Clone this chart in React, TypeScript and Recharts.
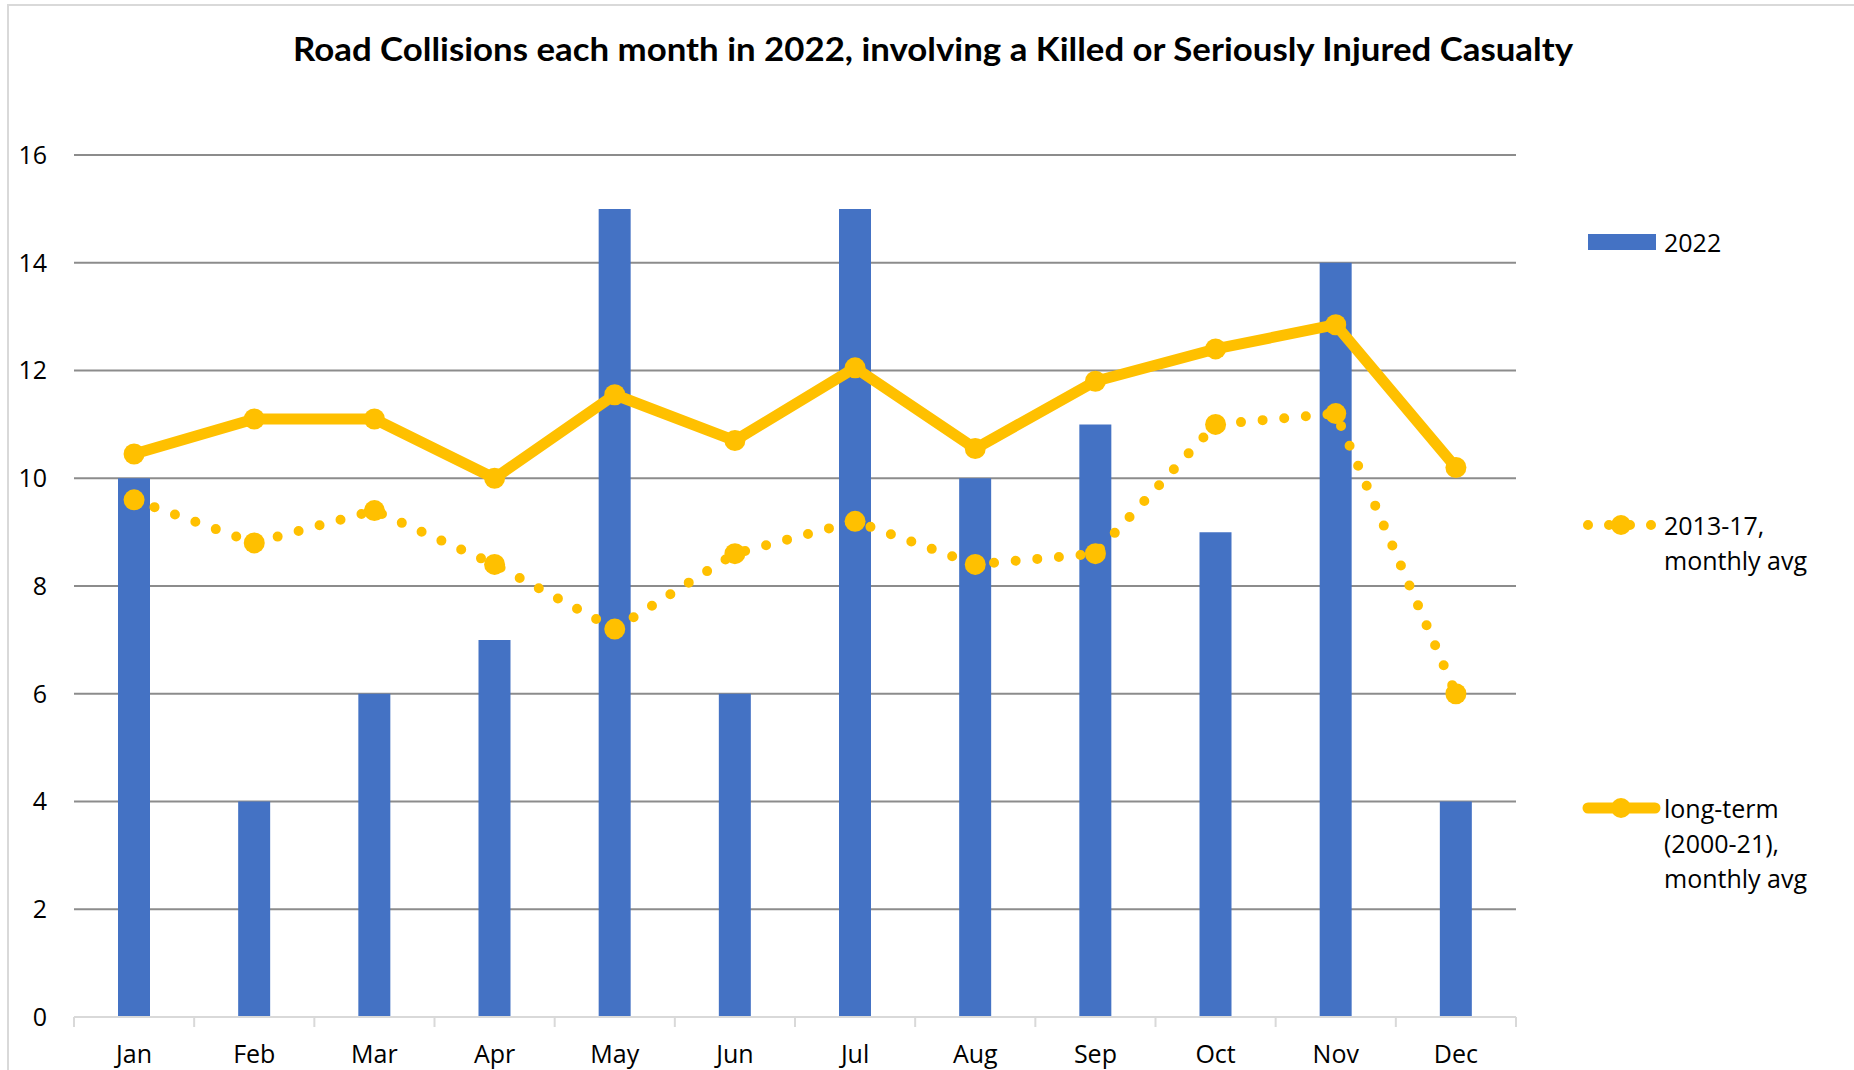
import React from 'react';
import { ComposedChart, Bar, Line, XAxis, YAxis, CartesianGrid, Legend } from 'recharts';

const months = ['Jan', 'Feb', 'Mar', 'Apr', 'May', 'Jun', 'Jul', 'Aug', 'Sep', 'Oct', 'Nov', 'Dec'];
const values2022 = [10, 4, 6, 7, 15, 6, 15, 10, 11, 9, 14, 4];
const avg2013to17 = [9.6, 8.8, 9.4, 8.4, 7.2, 8.6, 9.2, 8.4, 8.6, 11.0, 11.2, 6.0];
const longTermAvg = [10.45, 11.1, 11.1, 10.0, 11.55, 10.7, 12.05, 10.55, 11.8, 12.4, 12.85, 10.2];
const yTicks = [0, 2, 4, 6, 8, 10, 12, 14, 16];

const TITLE = 'Road Collisions each month in 2022, involving a Killed or Seriously Injured Casualty';
const NAME_2022 = '2022';
const NAME_1317 = ['2013-17,', 'monthly avg'];
const NAME_LT = ['long-term', '(2000-21),', 'monthly avg'];

const BLUE = '#4472C4';
const GOLD = '#FFC000';
const FONT = '"Open Sans", "Liberation Sans", Arial, sans-serif';

const data = months.map((m, i) => ({
  month: m,
  y2022: values2022[i],
  avg1317: avg2013to17[i],
  longTerm: longTermAvg[i],
}));

const XTick = (props: any) => {
  const { x, y, payload, index } = props;
  const off = payload && payload.offset ? payload.offset : 0;
  return (
    <g>
      <line x1={x - off} x2={x - off} y1={y} y2={y + 10} stroke="#d9d9d9" strokeWidth={2} />
      {index === months.length - 1 && (
        <line x1={x + off} x2={x + off} y1={y} y2={y + 10} stroke="#d9d9d9" strokeWidth={2} />
      )}
      <text x={x} y={y + 46} textAnchor="middle" fill="#000" fontSize={25} fontFamily={FONT}>
        {payload.value}
      </text>
    </g>
  );
};

const LegendContent = () => {
  const textStyle: React.CSSProperties = {
    position: 'absolute',
    left: 89,
    fontFamily: FONT,
    fontSize: 25,
    lineHeight: '35px',
    color: '#000',
    whiteSpace: 'nowrap',
  };
  return (
    <div style={{ position: 'relative', width: 279, height: 720 }}>
      <svg style={{ position: 'absolute', left: 0, top: 30 }} width={90} height={24}>
        <rect x={13} y={4} width={68} height={16} fill={BLUE} />
      </svg>
      <div style={{ ...textStyle, top: 42 - 17.5 }}>{NAME_2022}</div>
      <svg style={{ position: 'absolute', left: 0, top: 313 }} width={90} height={24}>
        <line x1={13} x2={80} y1={12} y2={12} stroke={GOLD} strokeWidth={10} strokeLinecap="round" strokeDasharray="0 21" />
        <circle cx={46} cy={12} r={10} fill={GOLD} />
      </svg>
      <div style={{ ...textStyle, top: 325 - 17.5 }}>
        {NAME_1317.map((t, i) => (
          <div key={i}>{t}</div>
        ))}
      </div>
      <svg style={{ position: 'absolute', left: 0, top: 596 }} width={90} height={24}>
        <line x1={13} x2={80} y1={12} y2={12} stroke={GOLD} strokeWidth={11} strokeLinecap="round" />
        <circle cx={46} cy={12} r={10} fill={GOLD} />
      </svg>
      <div style={{ ...textStyle, top: 608 - 17.5 }}>
        {NAME_LT.map((t, i) => (
          <div key={i}>{t}</div>
        ))}
      </div>
    </div>
  );
};

export default function App() {
  return (
    <div style={{ position: 'absolute', left: 0, top: 0, width: 1854, height: 1070, background: '#fff', overflow: 'hidden' }}>
      <div
        style={{
          position: 'absolute',
          left: 7,
          top: 4,
          width: 1900,
          height: 1100,
          borderLeft: '2px solid #d9d9d9',
          borderTop: '2px solid #d9d9d9',
        }}
      />
      <div style={{ position: 'absolute', left: 0, top: 0 }}>
        <ComposedChart width={1854} height={1070} data={data} margin={{ top: 155, right: 338, bottom: 3, left: 0 }}>
          <CartesianGrid vertical={false} stroke="#8c8c8c" strokeWidth={2} horizontalValues={yTicks.filter((v) => v > 0)} />
          <XAxis
            dataKey="month"
            height={50}
            axisLine={{ stroke: '#d9d9d9', strokeWidth: 2 }}
            tickLine={false}
            tickSize={0}
            tickMargin={0}
            interval={0}
            tick={<XTick />}
          />
          <YAxis
            width={74}
            domain={[0, 16]}
            ticks={yTicks}
            axisLine={false}
            tickLine={false}
            tickSize={0}
            tickMargin={27}
            tick={{ fill: '#000', fontSize: 25, fontFamily: FONT }}
          />
          <Legend
            layout="horizontal"
            align="center"
            verticalAlign="middle"
            content={<LegendContent />}
            wrapperStyle={{ position: 'absolute', left: 1575, top: 200, width: 279, height: 720 }}
          />
          <Bar dataKey="y2022" name={NAME_2022} fill={BLUE} barSize={32} isAnimationActive={false} />
          <Line
            dataKey="avg1317"
            name={NAME_1317.join(' ')}
            type="linear"
            stroke={GOLD}
            strokeWidth={10}
            strokeLinecap="round"
            strokeDasharray="0 21.7"
            dot={{ r: 10.5, fill: GOLD, stroke: 'none', strokeDasharray: '' }}
            activeDot={false}
            isAnimationActive={false}
          />
          <Line
            dataKey="longTerm"
            name={NAME_LT.join(' ')}
            type="linear"
            stroke={GOLD}
            strokeWidth={11}
            strokeLinejoin="round"
            dot={{ r: 10.5, fill: GOLD, stroke: 'none' }}
            activeDot={false}
            isAnimationActive={false}
          />
        </ComposedChart>
      </div>
      <svg style={{ position: 'absolute', left: 0, top: 0, pointerEvents: 'none' }} width={1854} height={100}>
        <text
          x={933}
          y={61}
          textAnchor="middle"
          fontFamily='Lato, "Open Sans", sans-serif'
          fontWeight="bold"
          fontSize={33}
          textLength={1280}
          lengthAdjust="spacingAndGlyphs"
          fill="#000"
        >
          {TITLE}
        </text>
      </svg>
    </div>
  );
}
